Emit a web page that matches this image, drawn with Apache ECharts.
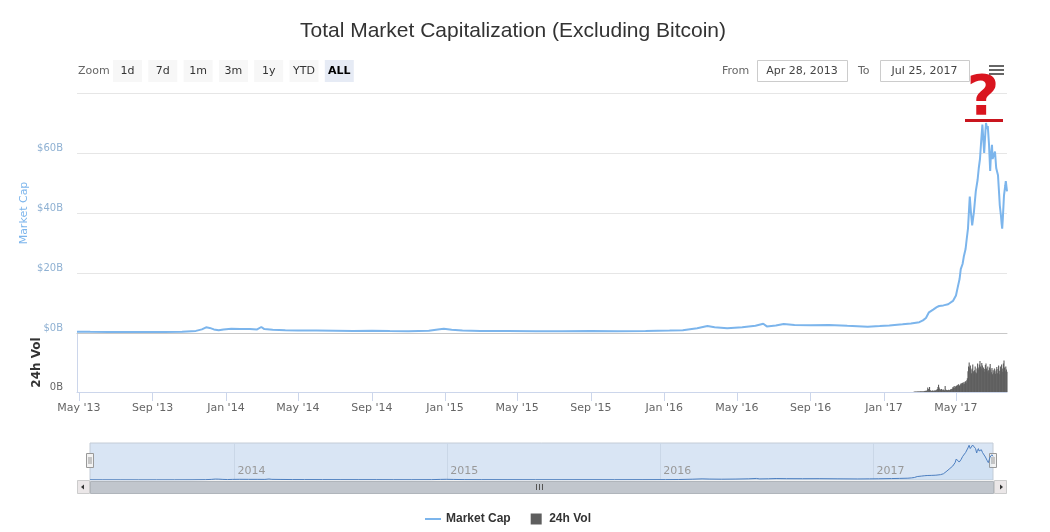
<!DOCTYPE html>
<html>
<head>
<meta charset="utf-8">
<title>Total Market Capitalization (Excluding Bitcoin)</title>
<script src="https://cdn.jsdelivr.net/npm/echarts@6.0.0/dist/echarts.min.js"></script>
<style>
html, body { margin: 0; padding: 0; background: #fff; }
#main { width: 1050px; height: 532px; }
</style>
</head>
<body>
<div id="main"></div>
<script>
// market cap excluding bitcoin, billions USD
var capDates = ['2013-04-28','2013-05-20','2013-06-20','2013-07-20','2013-08-20','2013-09-20','2013-10-20','2013-11-12','2013-11-22','2013-11-29',
  '2013-12-05','2013-12-12','2013-12-20','2013-12-28','2014-01-10','2014-01-25','2014-02-10','2014-02-22','2014-03-01','2014-03-06',
  '2014-03-20','2014-04-10','2014-05-01','2014-06-01','2014-07-01','2014-08-01','2014-09-01','2014-10-01','2014-11-01','2014-12-05',
  '2014-12-20','2014-12-30','2015-01-12','2015-01-30','2015-03-01','2015-04-15','2015-06-01','2015-07-15','2015-09-01','2015-10-15',
  '2015-12-01','2016-01-10','2016-02-01','2016-02-25','2016-03-13','2016-03-25','2016-04-15','2016-05-10','2016-06-01','2016-06-14',
  '2016-06-20','2016-07-05','2016-07-18','2016-08-05','2016-09-01','2016-10-01','2016-11-01','2016-12-05','2016-12-25','2017-01-10',
  '2017-02-01','2017-02-15','2017-03-01','2017-03-07','2017-03-12','2017-03-17','2017-03-24','2017-03-30','2017-04-03','2017-04-10',
  '2017-04-18','2017-04-26','2017-05-01','2017-05-04','2017-05-07','2017-05-09','2017-05-12','2017-05-14','2017-05-17','2017-05-19',
  '2017-05-21','2017-05-23','2017-05-24','2017-05-26','2017-05-28','2017-05-31','2017-06-03','2017-06-06','2017-06-08','2017-06-10',
  '2017-06-12','2017-06-14','2017-06-16','2017-06-17','2017-06-19','2017-06-20','2017-06-22','2017-06-23','2017-06-25','2017-06-27',
  '2017-06-28','2017-06-30','2017-07-01','2017-07-03','2017-07-05','2017-07-07','2017-07-10','2017-07-12','2017-07-13','2017-07-15',
  '2017-07-16','2017-07-17','2017-07-18','2017-07-20','2017-07-22','2017-07-23','2017-07-25'];
var capValues = [0.45,0.40,0.35,0.30,0.32,0.35,0.45,0.7,1.2,1.9,
  1.7,1.2,0.9,1.2,1.4,1.3,1.3,1.2,2.0,1.3,
  1.1,0.9,0.85,0.8,0.75,0.7,0.72,0.65,0.62,0.75,
  1.2,1.4,1.1,0.8,0.7,0.65,0.62,0.6,0.65,0.62,
  0.7,0.8,0.95,1.6,2.3,1.9,1.6,1.9,2.4,3.1,
  2.2,2.5,3.0,2.7,2.6,2.7,2.4,2.1,2.3,2.5,
  2.9,3.2,3.6,4.2,5.0,6.9,7.8,8.6,9.0,9.2,
  9.6,10.7,12.5,15.3,18.0,21.3,23.0,25.4,28.0,31.5,
  34.8,42.0,45.5,40.0,35.9,40.5,47.2,51.0,55.0,58.0,
  64.0,69.5,63.0,60.0,67.0,70.0,68.0,69.0,63.0,54.0,
  58.5,62.7,58.0,59.3,60.5,55.0,52.6,46.0,42.5,39.0,
  36.5,34.8,38.0,45.9,49.0,50.6,47.2];

// 24h volume, billions USD, one value per day from volStart
var volStart = '2017-02-20';
var volValues = [
  0.02,0.03,0.02,0.04,0.03,0.05,0.04,0.06,0.05,
  0.05,0.04,0.06,0.08,0.05,0.06,0.07,0.05,0.08,0.10,0.12,0.09,0.10,0.20,0.45,0.30,0.15,0.50,0.20,0.12,0.10,0.12,0.15,0.10,0.12,0.14,0.12,0.15,0.18,0.22,0.30,
  0.50,0.75,0.45,0.30,0.25,0.20,0.30,0.22,0.18,0.25,0.20,0.15,0.60,0.25,0.20,0.15,0.18,0.20,0.22,0.18,0.20,0.25,0.30,0.28,0.35,0.50,0.45,0.60,0.40,0.55,
  0.55,0.60,0.70,0.65,0.80,0.75,0.60,0.70,0.85,0.90,0.75,0.95,0.80,1.00,0.85,1.05,1.10,0.95,1.20,1.40,2.10,2.60,3.00,2.50,2.70,2.30,1.90,2.40,2.80,2.10,1.85,
  2.20,2.60,2.00,1.90,2.40,2.90,2.50,2.30,2.80,3.15,2.60,2.40,2.95,2.70,2.20,2.50,2.05,2.35,2.75,2.90,2.40,2.10,2.60,2.20,1.90,2.50,2.85,2.30,2.00,2.45,
  1.80,2.20,1.95,2.40,2.10,1.85,2.30,2.55,1.90,2.35,2.70,2.15,1.80,2.60,2.25,2.80,2.40,2.05,2.90,3.20,2.50,2.10,2.60,2.30,2.05];

var tickDates = ['2013-05-01','2013-09-01','2014-01-01','2014-05-01','2014-09-01','2015-01-01','2015-05-01',
  '2015-09-01','2016-01-01','2016-05-01','2016-09-01','2017-01-01','2017-05-01'];
var tickLabels = ["May '13","Sep '13","Jan '14","May '14","Sep '14","Jan '15","May '15",
  "Sep '15","Jan '16","May '16","Sep '16","Jan '17","May '17"];
var navYears = ['2014','2015','2016','2017'];
var zoomButtons = ['1d','7d','1m','3m','1y','YTD','ALL'];

function ts(s) {
  var p = s.split('-');
  return new Date(+p[0], +p[1] - 1, +p[2]).getTime();
}

var startT = ts(capDates[0]);
var endT = ts(capDates[capDates.length - 1]);

var capData = capDates.map(function (d, i) { return [ts(d), capValues[i]]; });
var vs = volStart.split('-');
var volData = volValues.map(function (v, i) {
  return [new Date(+vs[0], +vs[1] - 1, +vs[2] + i).getTime(), v];
});
var tickTs = tickDates.map(ts);
var yearTs = navYears.map(function (y) { return ts(y + '-01-01'); });

var smallFont = 'DejaVu Sans';

var myChart = echarts.init(document.getElementById('main'));

function label(x, text) {
  return { type: 'text', x: x, y: 71, style: { text: text, fill: '#666', font: '11px ' + smallFont, verticalAlign: 'middle' } };
}

var graphics = [];
graphics.push(label(78, 'Zoom'));
zoomButtons.forEach(function (b, i) {
  var sel = b === 'ALL';
  graphics.push({
    type: 'group', left: 113 + i * 35.3, top: 60,
    children: [
      { type: 'rect', shape: { x: 0, y: 0, width: 29, height: 22 }, style: { fill: sel ? '#e6ebf5' : '#f7f7f7' } },
      { type: 'text', x: 14.5, y: 11, style: { text: b, fill: sel ? '#000' : '#333', font: (sel ? 'bold ' : '') + '11px ' + smallFont, align: 'center', verticalAlign: 'middle' } }
    ]
  });
});
graphics.push(label(722, 'From'));
graphics.push({
  type: 'group', left: 757, top: 60,
  children: [
    { type: 'rect', shape: { x: 0.5, y: 0.5, width: 90, height: 21 }, style: { fill: '#fff', stroke: '#ccc', lineWidth: 1 } },
    { type: 'text', x: 45, y: 11, style: { text: 'Apr 28, 2013', fill: '#444', font: '11px ' + smallFont, align: 'center', verticalAlign: 'middle' } }
  ]
});
graphics.push(label(858, 'To'));
graphics.push({
  type: 'group', left: 880, top: 60,
  children: [
    { type: 'rect', shape: { x: 0.5, y: 0.5, width: 89, height: 21 }, style: { fill: '#fff', stroke: '#ccc', lineWidth: 1 } },
    { type: 'text', x: 44.5, y: 11, style: { text: 'Jul 25, 2017', fill: '#444', font: '11px ' + smallFont, align: 'center', verticalAlign: 'middle' } }
  ]
});
// menu icon
[65, 69, 73].forEach(function (y) {
  graphics.push({ type: 'rect', left: 989, top: y, shape: { x: 0, y: 0, width: 15, height: 2 }, style: { fill: '#666' } });
});
// red question mark drawn over the peak
graphics.push({ type: 'text', x: 983, y: 99, z: 100, style: { text: '?', fill: '#d9151f', font: 'bold 56px "DejaVu Sans"', align: 'center', verticalAlign: 'middle' } });
graphics.push({ type: 'rect', left: 965, top: 119, z: 100, shape: { x: 0, y: 0, width: 38, height: 3 }, style: { fill: '#c9151e' } });
// navigator handles
[90, 993].forEach(function (x) {
  graphics.push({
    type: 'group', left: x - 4, top: 453, z: 50,
    children: [
      { type: 'rect', shape: { x: 0.5, y: 0.5, width: 7, height: 14 }, style: { fill: '#f2f2f2', stroke: '#999', lineWidth: 1 } },
      { type: 'line', shape: { x1: 3, y1: 4, x2: 3, y2: 11 }, style: { stroke: '#999' } },
      { type: 'line', shape: { x1: 5, y1: 4, x2: 5, y2: 11 }, style: { stroke: '#999' } }
    ]
  });
});
// scrollbar
graphics.push({ type: 'rect', left: 77, top: 480, shape: { x: 0, y: 0, width: 930, height: 14 }, style: { fill: '#f2f2f2' } });
graphics.push({ type: 'rect', left: 90, top: 481, shape: { x: 0, y: 0, width: 903, height: 12 }, style: { fill: '#c1c6cd', stroke: '#b0b5bb', lineWidth: 1 } });
[536, 539, 542].forEach(function (x) {
  graphics.push({ type: 'rect', left: x, top: 484, shape: { x: 0, y: 0, width: 1, height: 6 }, style: { fill: '#555' } });
});
graphics.push({
  type: 'group', left: 77, top: 480,
  children: [
    { type: 'rect', shape: { x: 0.5, y: 0.5, width: 12, height: 13 }, style: { fill: '#ebe7e8', stroke: '#ccc', lineWidth: 1 } },
    { type: 'polygon', shape: { points: [[4, 7], [7, 4.5], [7, 9.5]] }, style: { fill: '#333' } }
  ]
});
graphics.push({
  type: 'group', left: 994, top: 480,
  children: [
    { type: 'rect', shape: { x: 0.5, y: 0.5, width: 12, height: 13 }, style: { fill: '#ebe7e8', stroke: '#ccc', lineWidth: 1 } },
    { type: 'polygon', shape: { points: [[9, 7], [6, 4.5], [6, 9.5]] }, style: { fill: '#333' } }
  ]
});

myChart.setOption({
  animation: false,
  title: {
    text: 'Total Market Capitalization (Excluding Bitcoin)',
    left: 508, top: 16, textAlign: 'center',
    textStyle: { fontFamily: 'Liberation Sans', fontSize: 21, fontWeight: 'normal', color: '#333' }
  },
  legend: {
    left: 420, top: 508, itemGap: 20, itemWidth: 16, itemHeight: 11,
    textStyle: { fontFamily: 'Liberation Sans', fontSize: 12, fontWeight: 'bold', color: '#333' },
    data: [
      { name: 'Market Cap', icon: 'path://M0,0H16V2H0Z' },
      { name: '24h Vol', icon: 'path://M0,0L10,0L10,10L0,10Z' }
    ]
  },
  grid: [
    { left: 77, right: 43, top: 93, height: 240 },
    { left: 77, right: 43, top: 333, height: 59 },
    { left: 90, right: 57, top: 443, height: 37, show: true, backgroundColor: '#d9e5f4', borderColor: '#c4ccd6', borderWidth: 1 }
  ],
  xAxis: [
    { type: 'value', gridIndex: 0, min: startT, max: endT, axisLine: { show: true, lineStyle: { color: '#c8c8c8' } },
      axisTick: { show: false }, axisLabel: { show: false }, splitLine: { show: false } },
    { type: 'value', gridIndex: 1, min: startT, max: endT,
      axisLine: { show: true, lineStyle: { color: '#ccd6eb' } },
      axisTick: { show: true, length: 9, customValues: tickTs, lineStyle: { color: '#ccd6eb' } },
      axisLabel: { customValues: tickTs, margin: 11, color: '#666', fontFamily: smallFont, fontSize: 11,
        formatter: function (v) { var i = tickTs.indexOf(v); return i >= 0 ? tickLabels[i] : ''; } },
      splitLine: { show: false } },
    { type: 'value', gridIndex: 2, min: startT, max: endT,
      axisLine: { show: false }, axisTick: { show: false, customValues: yearTs },
      axisLabel: { customValues: yearTs, inside: true, margin: 3, align: 'left', padding: [0, 0, 0, 3], color: '#999', fontFamily: smallFont, fontSize: 11,
        formatter: function (v) { var i = yearTs.indexOf(v); return i >= 0 ? navYears[i] : ''; } },
      splitLine: { show: true, lineStyle: { color: '#cad7e7' } } }
  ],
  yAxis: [
    { type: 'value', gridIndex: 0, min: 0, max: 80, interval: 20,
      name: 'Market Cap', nameLocation: 'middle', nameGap: 47, nameMoveOverlap: false,
      nameTextStyle: { color: '#7cb5ec', fontFamily: smallFont, fontSize: 11 },
      axisLine: { show: false }, axisTick: { show: false },
      axisLabel: { margin: 14, verticalAlign: 'bottom', color: '#8fb1d3', fontFamily: smallFont, fontSize: 10,
        formatter: function (v) { return v === 80 ? '' : '$' + v + 'B'; } },
      splitLine: { lineStyle: { color: '#e6e6e6' } } },
    { type: 'value', gridIndex: 1, min: 0, max: 6, interval: 6,
      name: '24h Vol', nameLocation: 'middle', nameGap: 34, nameMoveOverlap: false,
      nameTextStyle: { color: '#333', fontFamily: smallFont, fontSize: 12, fontWeight: 'bold' },
      axisLine: { show: true, lineStyle: { color: '#ccd6eb' } }, axisTick: { show: false },
      axisLabel: { margin: 14, verticalAlign: 'bottom', color: '#666', fontFamily: smallFont, fontSize: 10,
        formatter: function (v) { return v === 0 ? '0B' : ''; } },
      splitLine: { show: false } },
    { type: 'value', gridIndex: 2, min: 0, max: 74, show: false, splitLine: { show: false } }
  ],
  series: [
    { name: 'Market Cap', type: 'line', xAxisIndex: 0, yAxisIndex: 0, data: capData,
      symbol: 'none', lineStyle: { color: '#7cb5ec', width: 2 }, itemStyle: { color: '#7cb5ec' } },
    { name: '24h Vol', type: 'bar', xAxisIndex: 1, yAxisIndex: 1, data: volData,
      barWidth: 1.1, itemStyle: { color: '#5e5e5e' } },
    { name: 'nav', type: 'line', xAxisIndex: 2, yAxisIndex: 2, data: capData, silent: true,
      symbol: 'none', lineStyle: { color: '#4d7fc0', width: 1 }, areaStyle: { color: 'rgba(124,181,236,0.12)' } }
  ],
  graphic: graphics
});
</script>
</body>
</html>
